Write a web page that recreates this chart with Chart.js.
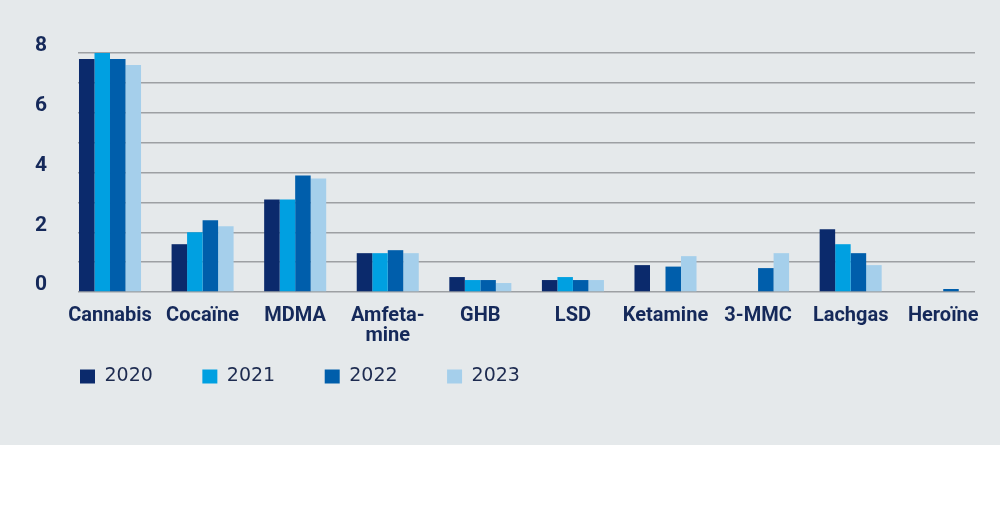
<!DOCTYPE html>
<html>
<head>
<meta charset="utf-8">
<script src="https://cdn.jsdelivr.net/npm/chart.js@4"></script>
<style>
    body { margin: 0; background: #ffffff; }
    #wrap { width: 1000px; height: 445px; background: #e5e9eb; position: relative; }
</style>
</head>
<body>
<div id="wrap"><canvas id="myChart"></canvas></div>
<script>
const categories = ['Cannabis', 'Cocaïne', 'MDMA', 'Amfeta-\nmine', 'GHB', 'LSD', 'Ketamine', '3-MMC', 'Lachgas', 'Heroïne'];
const years = ['2020', '2021', '2022', '2023'];
const colors = ['#0b2a6c', '#00a0e1', '#005eab', '#a5cfeb'];

const values2020 = [7.8, 1.6, 3.1, 1.3, 0.5, 0.4, 0.9, null, 2.1, null];
const values2021 = [8.0, 2.0, 3.1, 1.3, 0.4, 0.5, null, null, 1.6, null];
const values2022 = [7.8, 2.4, 3.9, 1.4, 0.4, 0.4, 0.85, 0.8, 1.3, 0.1];
const values2023 = [7.6, 2.2, 3.8, 1.3, 0.3, 0.4, 1.2, 1.3, 0.9, null];

const yTicks = [0, 2, 4, 6, 8];

const textColor = '#15295a';

var series = [values2020, values2021, values2022, values2023];
var datasets = [];
for (let i = 0; i < series.length; i++) {
    datasets.push({
        label: years[i],
        data: series[i].map((v, k) => ({ x: k, y: v })),
        backgroundColor: colors[i],
        borderWidth: 0,
        categoryPercentage: 0.67,
        barPercentage: 1.0
    });
}

const config = {
    type: 'bar',
    data: { datasets: datasets },
    options: {
        responsive: true,
        maintainAspectRatio: false,
        animation: false,
        layout: { padding: { left: 29, right: 25, top: 53, bottom: 49 } },
        plugins: {
            tooltip: { enabled: false },
            legend: {
                position: 'bottom',
                align: 'start',
                fullSize: false,
                labels: {
                    boxWidth: 15,
                    boxHeight: 14,
                    padding: 2,
                    color: '#1d2b50',
                    font: { family: 'DejaVu Sans', size: 19 },
                    generateLabels: function (chart) {
                        // wide gap between the legend items, tight row padding
                        var items = Chart.defaults.plugins.legend.labels.generateLabels(chart);
                        items.forEach(it => { it.text = it.text + '\u2003\u2003\u2002'; });
                        return items;
                    }
                }
            }
        },
        scales: {
            x: {
                type: 'linear',
                offset: false,
                min: -0.3457,
                max: 9.343,
                grid: { display: false },
                border: { display: false },
                afterFit: function (scale) { scale.height = 73; },
                ticks: {
                    stepSize: 1,
                    includeBounds: false,
                    autoSkip: false,
                    maxRotation: 0,
                    padding: 6,
                    color: textColor,
                    font: { family: 'Roboto', size: 20, weight: 'bold', lineHeight: 1 },
                    callback: function (v) {
                        return categories[v] ? categories[v].split('\n') : '';
                    }
                }
            },
            y: {
                min: 0,
                max: 8,
                grid: { color: '#9da0a3', lineWidth: 1.4, drawTicks: false },
                border: { display: false },
                afterFit: function (scale) { scale.width = 49; },
                ticks: {
                    stepSize: 1,
                    padding: 31,
                    labelOffset: -7,
                    color: textColor,
                    font: { family: 'Roboto', size: 21, weight: 'bold' },
                    callback: function (v) {
                        return yTicks.includes(v) ? v : '';
                    }
                }
            }
        }
    }
};

const myChart = new Chart(document.getElementById('myChart'), config);
</script>
</body>
</html>
